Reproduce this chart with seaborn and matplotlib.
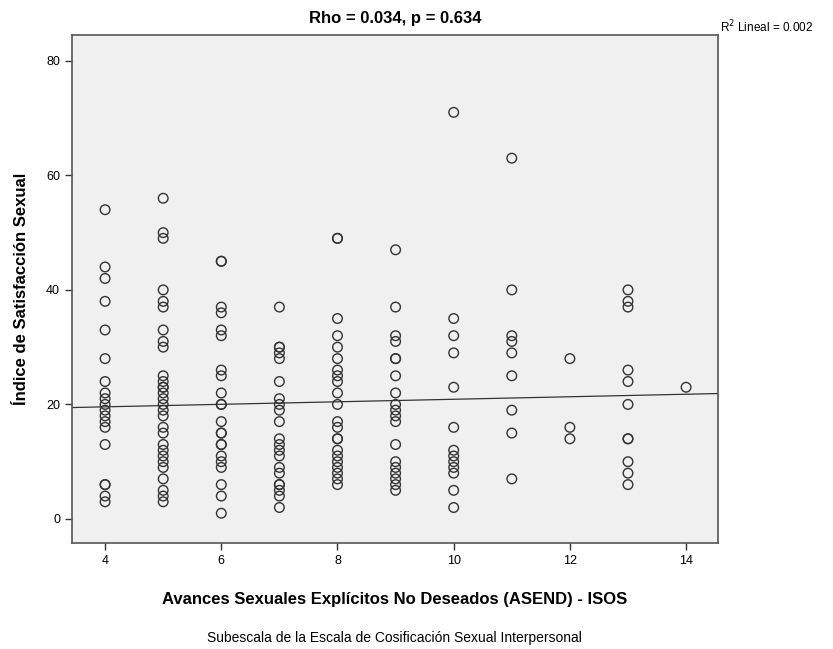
'''
Scatter plot: ASEND (ISOS) vs Índice de Satisfacción Sexual
'''

# Importing Libraries
import matplotlib
matplotlib.use("Agg")
import matplotlib.pyplot as plt
import seaborn as sns
import numpy as np
import pandas as pd

# Values read per x column
x4 = [54, 44, 42, 38, 33, 28, 24, 22, 21, 20, 19, 18, 17, 16, 13, 6, 6, 4, 3]
x5 = [56, 50, 49, 40, 38, 37, 33, 31, 30, 25, 24, 23, 23, 22, 21, 20, 19, 18,
      16, 15, 13, 12, 11, 10, 9, 7, 5, 4, 3]
x6 = [45, 45, 37, 36, 33, 32, 26, 25, 22, 20, 20, 17, 15, 15, 13, 13, 11, 10,
      9, 6, 4, 1]
x7 = [37, 30, 30, 29, 28, 24, 21, 20, 19, 17, 14, 13, 12, 11, 9, 8, 6, 6, 5, 4, 2]
x8 = [49, 49, 35, 32, 30, 28, 26, 25, 24, 22, 20, 17, 16, 14, 14, 12, 11, 10,
      9, 8, 7, 6]
x9 = [47, 37, 32, 31, 28, 28, 25, 22, 20, 19, 18, 17, 13, 10, 9, 8, 7, 6, 5]
x10 = [71, 35, 32, 29, 23, 16, 12, 11, 10, 9, 8, 5, 2]
x11 = [63, 40, 32, 31, 29, 25, 19, 15, 7]
x12 = [28, 16, 14]
x13 = [40, 38, 37, 26, 24, 20, 14, 14, 10, 8, 6]
x14 = [23]

columns = {4: x4, 5: x5, 6: x6, 7: x7, 8: x8, 9: x9, 10: x10,
           11: x11, 12: x12, 13: x13, 14: x14}

# Linear fit line as shown in the original (R2 Lineal = 0.002)
fit_intercept = 18.7
fit_slope = 0.22

df = pd.DataFrame([(k, v) for k, vals in columns.items() for v in vals],
                  columns=['ASEND', 'Satisfaccion'])

sns.set_style('ticks')
plt.rcParams['font.family'] = ['Liberation Sans', 'DejaVu Sans']
plt.rcParams['text.color'] = 'black'
plt.rcParams['axes.labelcolor'] = 'black'
plt.rcParams['xtick.labelcolor'] = 'black'
plt.rcParams['ytick.labelcolor'] = 'black'

fig = plt.figure(figsize=(8.33, 6.49), dpi=100)
ax = fig.add_axes([0.0864, 0.1633, 0.7756, 0.7827])
ax.set_facecolor('#F0F0F0')

# Points and fit line
sns.scatterplot(data=df, x='ASEND', y='Satisfaccion', ax=ax, s=48,
                facecolor='none', edgecolor='#333333', linewidth=1.0, zorder=3)
ax.axline((0, fit_intercept), slope=fit_slope, color='#333333',
          linewidth=0.9, zorder=2)
ax.set_xlim(3.43, 14.55)
ax.set_ylim(-4.2, 84.5)

ax.set_xticks([4, 6, 8, 10, 12, 14])
ax.set_yticks([0, 20, 40, 60, 80])
ax.tick_params(labelsize=9, length=5, width=1.0, color='#333333')
for sp in ax.spines.values():
    sp.set_visible(True)
    sp.set_color('#555555')
    sp.set_linewidth(1.2)

ax.set_xlabel('Avances Sexuales Explícitos No Deseados (ASEND) - ISOS',
              fontsize=12, fontweight='bold', labelpad=18)
ax.set_ylabel('Índice de Satisfacción Sexual', fontsize=12,
              fontweight='bold', labelpad=12)
ax.set_title('Rho = 0.034, p = 0.634', fontsize=12, fontweight='bold', pad=9)

fig.text(0.864, 0.958, 'R$^2$ Lineal = 0.002', fontsize=8.5, ha='left', va='center')
fig.text(0.474, 0.017, 'Subescala de la Escala de Cosificación Sexual Interpersonal',
         fontsize=10, ha='center', va='center')

plt.savefig('out.png', dpi=100)
